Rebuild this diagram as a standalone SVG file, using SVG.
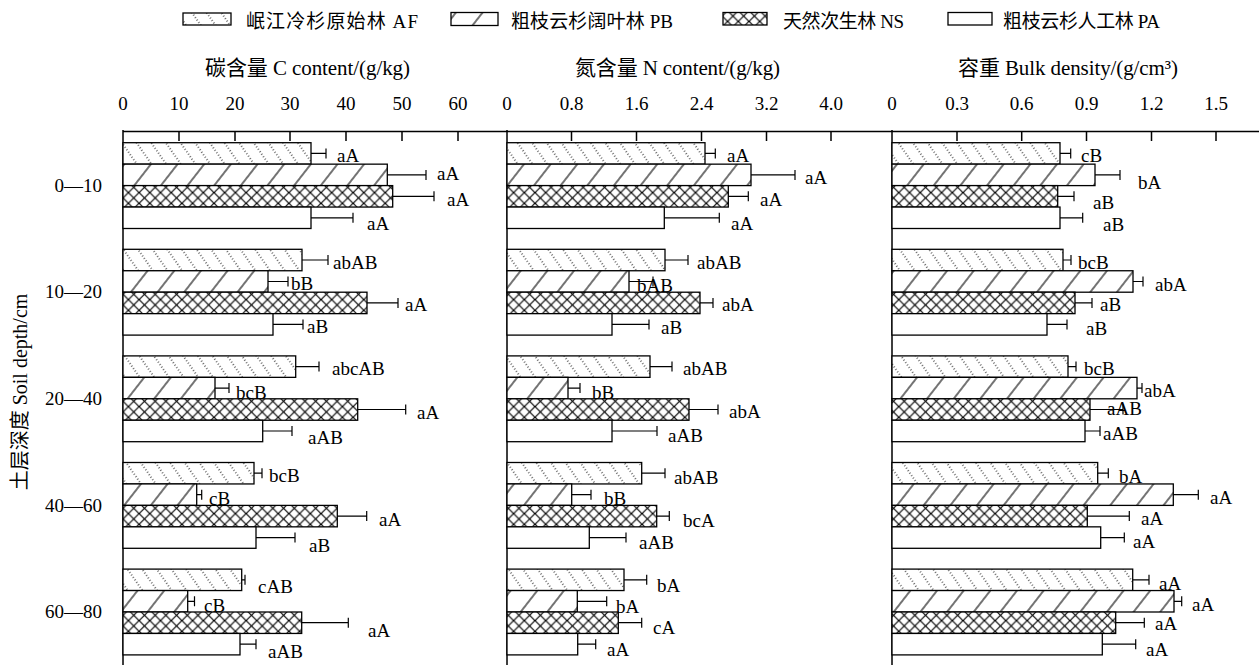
<svg xmlns="http://www.w3.org/2000/svg" width="1259" height="665" viewBox="0 0 1259 665">
<style>
text{font-family:"Liberation Serif","Noto Sans CJK SC",serif;fill:#000}
.t{font-size:19px}
.tk{font-size:19px;text-anchor:middle}
.ttl{font-size:21px}
.yl{font-size:19px;text-anchor:end}
.lb{font-size:19px}
.bar{stroke:#000;stroke-width:1.3}
.af{fill:url(#pAF)}
.pb{fill:url(#pPB)}
.ns{fill:url(#pNS)}
.pa{fill:#fff}
.ax{stroke:#000;stroke-width:1.5;fill:none}
.err{stroke:#000;stroke-width:1.2;fill:none}
</style>
<defs>
<pattern id="pAF" patternUnits="userSpaceOnUse" width="12" height="12" patternTransform="rotate(-35)">
<rect width="12" height="12" fill="#fff"/>
<line x1="6" y1="0" x2="6" y2="12" stroke="#000" stroke-width="1.1" stroke-dasharray="1 2"/>
</pattern>
<pattern id="pPB" patternUnits="userSpaceOnUse" width="21" height="10" patternTransform="rotate(38)">
<rect width="21" height="10" fill="#fff"/>
<line x1="10" y1="0" x2="10" y2="10" stroke="#000" stroke-width="1.1"/>
</pattern>
<pattern id="pNS" patternUnits="userSpaceOnUse" width="10.7" height="10.7">
<rect width="10.7" height="10.7" fill="#fff"/>
<path d="M0,0L10.7,10.7M10.7,0L0,10.7" stroke="#000" stroke-width="1.2"/>
</pattern>
</defs>
<rect width="1259" height="665" fill="#fff"/>

<g id="legend">
<rect class="bar af" x="183" y="13" width="48" height="12"/>
<text class="t" x="246" y="28" textLength="172" lengthAdjust="spacing">岷江冷杉原始林 AF</text>
<rect class="bar pb" x="451" y="12.5" width="47" height="13"/>
<text class="t" x="511" y="28" textLength="162" lengthAdjust="spacing">粗枝云杉阔叶林 PB</text>
<rect class="bar ns" x="723" y="12.5" width="44" height="12.5"/>
<text class="t" x="783" y="28" textLength="121" lengthAdjust="spacing">天然次生林 NS</text>
<rect class="bar pa" x="948" y="12.5" width="44" height="12.5"/>
<text class="t" x="1003" y="28" textLength="157" lengthAdjust="spacing">粗枝云杉人工林 PA</text>
</g>

<g id="axes">
<text class="ttl" x="205" y="75" textLength="205" lengthAdjust="spacing">碳含量 C content/(g/kg)</text>
<text class="ttl" x="575" y="75" textLength="205" lengthAdjust="spacing">氮含量 N content/(g/kg)</text>
<text class="ttl" x="958" y="75" textLength="220" lengthAdjust="spacing">容重 Bulk density/(g/cm³)</text>
<g class="tk">
<text class="tk" x="123" y="110">0</text><text class="tk" x="179" y="110">10</text><text class="tk" x="235" y="110">20</text><text class="tk" x="290" y="110">30</text><text class="tk" x="346" y="110">40</text><text class="tk" x="402" y="110">50</text><text class="tk" x="458" y="110">60</text>
<text class="tk" x="507" y="110">0</text><text class="tk" x="571.5" y="110">0.8</text><text class="tk" x="636.5" y="110">1.6</text><text class="tk" x="701.5" y="110">2.4</text><text class="tk" x="766.5" y="110">3.2</text><text class="tk" x="831" y="110">4.0</text>
<text class="tk" x="892" y="110">0</text><text class="tk" x="957" y="110">0.3</text><text class="tk" x="1021.7" y="110">0.6</text><text class="tk" x="1086.5" y="110">0.9</text><text class="tk" x="1151.5" y="110">1.2</text><text class="tk" x="1216" y="110">1.5</text>
</g>
<path class="ax" d="M123,131.5H1259M123,130V665M507,130V665M892,130V665
M179,131V141M235,131V141M290,131V141M346,131V141M402,131V141M458,131V141
M571.5,131V141M636.5,131V141M701.5,131V141M766.5,131V141M831,131V141
M957,131V141M1021.7,131V141M1086.5,131V141M1151.5,131V141M1216,131V141"/>
<text class="yl" x="102" y="191.7">0—10</text>
<text class="yl" x="102" y="298.3">10—20</text>
<text class="yl" x="102" y="404.9">20—40</text>
<text class="yl" x="102" y="511.5">40—60</text>
<text class="yl" x="102" y="618.1">60—80</text>
<text font-size="20" text-anchor="middle" transform="translate(27,392) rotate(-90)">土层深度 Soil depth/cm</text>
</g>

<g id="panel-C">
<rect class="bar af" x="123" y="142.7" width="188" height="21.45"/>
<rect class="bar pb" x="123" y="164.15" width="264.3" height="21.45"/>
<rect class="bar ns" x="123" y="185.6" width="269.7" height="21.45"/>
<rect class="bar pa" x="123" y="207.05" width="188" height="21.45"/>
<rect class="bar af" x="123" y="249.3" width="179" height="21.45"/>
<rect class="bar pb" x="123" y="270.75" width="145" height="21.45"/>
<rect class="bar ns" x="123" y="292.2" width="244" height="21.45"/>
<rect class="bar pa" x="123" y="313.65" width="150" height="21.45"/>
<rect class="bar af" x="123" y="355.9" width="172.7" height="21.45"/>
<rect class="bar pb" x="123" y="377.35" width="92" height="21.45"/>
<rect class="bar ns" x="123" y="398.8" width="234.7" height="21.45"/>
<rect class="bar pa" x="123" y="420.25" width="139.7" height="21.45"/>
<rect class="bar af" x="123" y="462.5" width="131" height="21.45"/>
<rect class="bar pb" x="123" y="483.95" width="73.7" height="21.45"/>
<rect class="bar ns" x="123" y="505.4" width="214.3" height="21.45"/>
<rect class="bar pa" x="123" y="526.85" width="133" height="21.45"/>
<rect class="bar af" x="123" y="569.1" width="118.7" height="21.45"/>
<rect class="bar pb" x="123" y="590.55" width="64.7" height="21.45"/>
<rect class="bar ns" x="123" y="612" width="178.7" height="21.45"/>
<rect class="bar pa" x="123" y="633.45" width="117" height="21.45"/>
<path class="err" d="M311,153.4H326M326,148.4V158.4 M387.3,174.9H426M426,169.9V179.9 M392.7,196.3H434M434,191.3V201.3 M311,217.8H353M353,212.8V222.8
M302,260H328M328,255V265 M268,281.5H288M288,276.5V286.5 M367,302.9H398M398,297.9V307.9 M273,324.4H303M303,319.4V329.4
M295.7,366.6H319M319,361.6V371.6 M215,388.1H229M229,383.1V393.1 M357.7,409.5H405.7M405.7,404.5V414.5 M262.7,431H292M292,426V436
M254,473.2H262M262,468.2V478.2 M196.7,494.7H201.7M201.7,489.7V499.7 M337.3,516.1H366.7M366.7,511.1V521.1 M256,537.6H295M295,532.6V542.6
M241.7,579.8H245M245,574.8V584.8 M187.7,601.3H194.5M194.5,596.3V606.3 M301.7,622.7H348.3M348.3,617.7V627.7 M240,644.2H256M256,639.2V649.2"/>
<text class="lb" x="337" y="161.5">aA</text><text class="lb" x="437" y="179.5">aA</text><text class="lb" x="447" y="205.5">aA</text><text class="lb" x="367" y="229.5">aA</text>
<text class="lb" x="333" y="268.5">abAB</text><text class="lb" x="291" y="289.5">bB</text><text class="lb" x="405" y="310.5">aA</text><text class="lb" x="307" y="332.5">aB</text>
<text class="lb" x="332" y="374.5">abcAB</text><text class="lb" x="236" y="398.5">bcB</text><text class="lb" x="417" y="418.5">aA</text><text class="lb" x="308" y="443.5">aAB</text>
<text class="lb" x="269" y="481.5">bcB</text><text class="lb" x="209" y="504.5">cB</text><text class="lb" x="379" y="525.5">aA</text><text class="lb" x="309" y="551.5">aB</text>
<text class="lb" x="258" y="592.5">cAB</text><text class="lb" x="204" y="611.5">cB</text><text class="lb" x="368" y="636.5">aA</text><text class="lb" x="268" y="657.5">aAB</text>
</g>

<g id="panel-N">
<rect class="bar af" x="507" y="142.7" width="198" height="21.45"/>
<rect class="bar pb" x="507" y="164.15" width="244" height="21.45"/>
<rect class="bar ns" x="507" y="185.6" width="221.3" height="21.45"/>
<rect class="bar pa" x="507" y="207.05" width="157.3" height="21.45"/>
<rect class="bar af" x="507" y="249.3" width="158" height="21.45"/>
<rect class="bar pb" x="507" y="270.75" width="122" height="21.45"/>
<rect class="bar ns" x="507" y="292.2" width="193" height="21.45"/>
<rect class="bar pa" x="507" y="313.65" width="105" height="21.45"/>
<rect class="bar af" x="507" y="355.9" width="143" height="21.45"/>
<rect class="bar pb" x="507" y="377.35" width="61" height="21.45"/>
<rect class="bar ns" x="507" y="398.8" width="182" height="21.45"/>
<rect class="bar pa" x="507" y="420.25" width="105" height="21.45"/>
<rect class="bar af" x="507" y="462.5" width="134.7" height="21.45"/>
<rect class="bar pb" x="507" y="483.95" width="64.7" height="21.45"/>
<rect class="bar ns" x="507" y="505.4" width="149.7" height="21.45"/>
<rect class="bar pa" x="507" y="526.85" width="82.3" height="21.45"/>
<rect class="bar af" x="507" y="569.1" width="117" height="21.45"/>
<rect class="bar pb" x="507" y="590.55" width="70.3" height="21.45"/>
<rect class="bar ns" x="507" y="612" width="111.3" height="21.45"/>
<rect class="bar pa" x="507" y="633.45" width="70.7" height="21.45"/>
<path class="err" d="M705,153.4H715.3M715.3,148.4V158.4 M751,174.9H795M795,169.9V179.9 M728.3,196.3H748.3M748.3,191.3V201.3 M664.3,217.8H719.3M719.3,212.8V222.8
M665,260H688M688,255V265 M629,281.5H653M653,276.5V286.5 M700,302.9H713M713,297.9V307.9 M612,324.4H649M649,319.4V329.4
M650,366.6H672M672,361.6V371.6 M568,388.1H580M580,383.1V393.1 M689,409.5H718M718,404.5V414.5 M612,431H657M657,426V436
M641.7,473.2H665M665,468.2V478.2 M571.7,494.7H591M591,489.7V499.7 M656.7,516.1H669.3M669.3,511.1V521.1 M589.3,537.6H626M626,532.6V542.6
M624,579.8H646.7M646.7,574.8V584.8 M577.3,601.3H606.7M606.7,596.3V606.3 M618.3,622.7H641.7M641.7,617.7V627.7 M577.7,644.2H595.7M595.7,639.2V649.2"/>
<text class="lb" x="727" y="161.5">aA</text><text class="lb" x="805" y="183.5">aA</text><text class="lb" x="760" y="205.5">aA</text><text class="lb" x="731" y="229.5">aA</text>
<text class="lb" x="697" y="268.5">abAB</text><text class="lb" x="637" y="291.5">bAB</text><text class="lb" x="722" y="310.5">abA</text><text class="lb" x="661" y="333.5">aB</text>
<text class="lb" x="683" y="374.5">abAB</text><text class="lb" x="592" y="398.5">bB</text><text class="lb" x="729" y="417.5">abA</text><text class="lb" x="668" y="441.5">aAB</text>
<text class="lb" x="674" y="483.5">abAB</text><text class="lb" x="604" y="504.5">bB</text><text class="lb" x="683" y="526.5">bcA</text><text class="lb" x="639" y="548.5">aAB</text>
<text class="lb" x="657" y="591.5">bA</text><text class="lb" x="616" y="612.5">bA</text><text class="lb" x="653" y="633.5">cA</text><text class="lb" x="607" y="655.5">aA</text>
</g>

<g id="panel-BD">
<rect class="bar af" x="892" y="142.7" width="168" height="21.45"/>
<rect class="bar pb" x="892" y="164.15" width="203" height="21.45"/>
<rect class="bar ns" x="892" y="185.6" width="165.7" height="21.45"/>
<rect class="bar pa" x="892" y="207.05" width="168" height="21.45"/>
<rect class="bar af" x="892" y="249.3" width="171" height="21.45"/>
<rect class="bar pb" x="892" y="270.75" width="241" height="21.45"/>
<rect class="bar ns" x="892" y="292.2" width="183" height="21.45"/>
<rect class="bar pa" x="892" y="313.65" width="155" height="21.45"/>
<rect class="bar af" x="892" y="355.9" width="176" height="21.45"/>
<rect class="bar pb" x="892" y="377.35" width="245" height="21.45"/>
<rect class="bar ns" x="892" y="398.8" width="198" height="21.45"/>
<rect class="bar pa" x="892" y="420.25" width="193" height="21.45"/>
<rect class="bar af" x="892" y="462.5" width="205.7" height="21.45"/>
<rect class="bar pb" x="892" y="483.95" width="281.3" height="21.45"/>
<rect class="bar ns" x="892" y="505.4" width="195.3" height="21.45"/>
<rect class="bar pa" x="892" y="526.85" width="208.7" height="21.45"/>
<rect class="bar af" x="892" y="569.1" width="240.7" height="21.45"/>
<rect class="bar pb" x="892" y="590.55" width="282" height="21.45"/>
<rect class="bar ns" x="892" y="612" width="223.7" height="21.45"/>
<rect class="bar pa" x="892" y="633.45" width="210.3" height="21.45"/>
<path class="err" d="M1060,153.4H1070.7M1070.7,148.4V158.4 M1095,174.9H1120M1120,169.9V179.9 M1057.7,196.3H1074M1074,191.3V201.3 M1060,217.8H1082.7M1082.7,212.8V222.8
M1063,260H1071M1071,255V265 M1133,281.5H1143M1143,276.5V286.5 M1075,302.9H1092M1092,297.9V307.9 M1047,324.4H1067M1067,319.4V329.4
M1068,366.6H1076M1076,361.6V371.6 M1137,388.1H1142M1142,383.1V393.1 M1090,409.5H1123M1123,404.5V414.5 M1085,431H1100M1100,426V436
M1097.7,473.2H1108.3M1108.3,468.2V478.2 M1173.3,494.7H1198.3M1198.3,489.7V499.7 M1087.3,516.1H1129.3M1129.3,511.1V521.1 M1100.7,537.6H1124.3M1124.3,532.6V542.6
M1132.7,579.8H1149M1149,574.8V584.8 M1174,601.3H1181.7M1181.7,596.3V606.3 M1115.7,622.7H1144.3M1144.3,617.7V627.7 M1102.3,644.2H1135.7M1135.7,639.2V649.2"/>
<text class="lb" x="1081" y="161.5">cB</text><text class="lb" x="1138" y="188.5">bA</text><text class="lb" x="1093" y="208.5">aB</text><text class="lb" x="1103" y="230.5">aB</text>
<text class="lb" x="1078" y="268.5">bcB</text><text class="lb" x="1155" y="290.5">abA</text><text class="lb" x="1100" y="310.5">aB</text><text class="lb" x="1086" y="334.5">aB</text>
<text class="lb" x="1084" y="374.5">bcB</text><text class="lb" x="1144" y="396.5">abA</text><text class="lb" x="1107" y="414.5">aAB</text><text class="lb" x="1103" y="439.5">aAB</text>
<text class="lb" x="1119" y="482.5">bA</text><text class="lb" x="1210" y="503.5">aA</text><text class="lb" x="1141" y="524.5">aA</text><text class="lb" x="1133" y="547.5">aA</text>
<text class="lb" x="1159" y="589.5">aA</text><text class="lb" x="1192" y="610.5">aA</text><text class="lb" x="1155" y="629.5">aA</text><text class="lb" x="1146" y="655.5">aA</text>
</g>
</svg>
